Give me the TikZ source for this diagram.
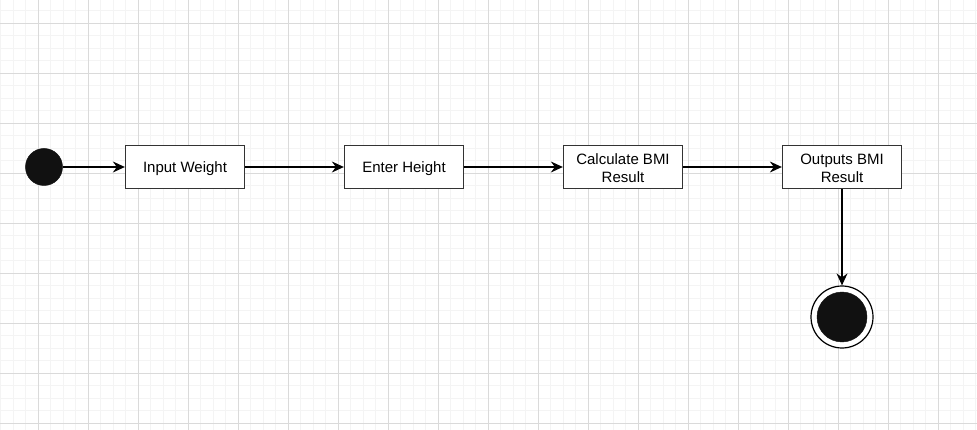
\documentclass[tikz,border=0pt]{standalone}
\usepackage{fontspec}
\setmainfont{Liberation Sans}
\usetikzlibrary{arrows.meta}
\definecolor{gridminor}{HTML}{F4F4F4}
\definecolor{gridmajor}{HTML}{DADADA}
\definecolor{dot}{HTML}{111111}
\definecolor{boxline}{HTML}{333333}
\begin{document}
\begin{tikzpicture}[x=1pt,y=-1pt,
  minorline/.style={draw=gridminor, line width=1pt},
  majorline/.style={draw=gridmajor, line width=1pt},
  act/.style={draw=boxline, line width=1.3pt, fill=white, minimum width=119pt, minimum height=43pt,
    inner sep=0pt},
  acttext/.style={inner sep=0pt, align=center, font=\fontsize{15}{18}\selectfont},
  startdot/.style={circle, fill=dot, draw=dot, line width=0.5pt, minimum size=37pt, inner sep=0pt},
  endring/.style={circle, fill=white, draw=black, line width=1.2pt, minimum size=62pt, inner sep=0pt},
  enddot/.style={circle, fill=dot, draw=dot, minimum size=50pt, inner sep=0pt},
  flow/.style={line width=1.3pt, -{Stealth[length=12pt,width=11pt,inset=4pt]}}
]
\useasboundingbox (0,0) rectangle (977,430);
\fill[white] (0,0) rectangle (977,430);
% grid
\foreach \k in {0,...,78} { \draw[minorline] ({0.8+12.5*\k},0) -- ({0.8+12.5*\k},430); }
\foreach \k in {0,...,33} { \draw[minorline] (0,{10.8+12.5*\k}) -- (977,{10.8+12.5*\k}); }
\foreach \k in {0,...,18} { \draw[majorline] ({38.3+50*\k},0) -- ({38.3+50*\k},430); }
\foreach \k in {0,...,8} { \draw[majorline] (0,{23.3+50*\k}) -- (977,{23.3+50*\k}); }
% nodes
\node[startdot] (start) at (44,167) {};
\node[act] (w) at (185,167) {};
\node[acttext] (wt) at (185,168.5) {Input Weight};
\node[act] (h) at (404,167) {};
\node[acttext] (ht) at (404,168.5) {Enter Height};
\node[act] (c) at (623,167) {};
\node[acttext] (ct) at (623,168.5) {Calculate BMI\\Result};
\node[act] (o) at (842,167) {};
\node[acttext] (ot) at (842,168.5) {Outputs BMI\\Result};
\node[endring] (end) at (842,317) {};
\node[enddot] (endin) at (842,317) {};
% connectors
\draw[flow] (start) -- (w);
\draw[flow] (w) -- (h);
\draw[flow] (h) -- (c);
\draw[flow] (c) -- (o);
\draw[flow] (o) -- (end);
\end{tikzpicture}
\end{document}
